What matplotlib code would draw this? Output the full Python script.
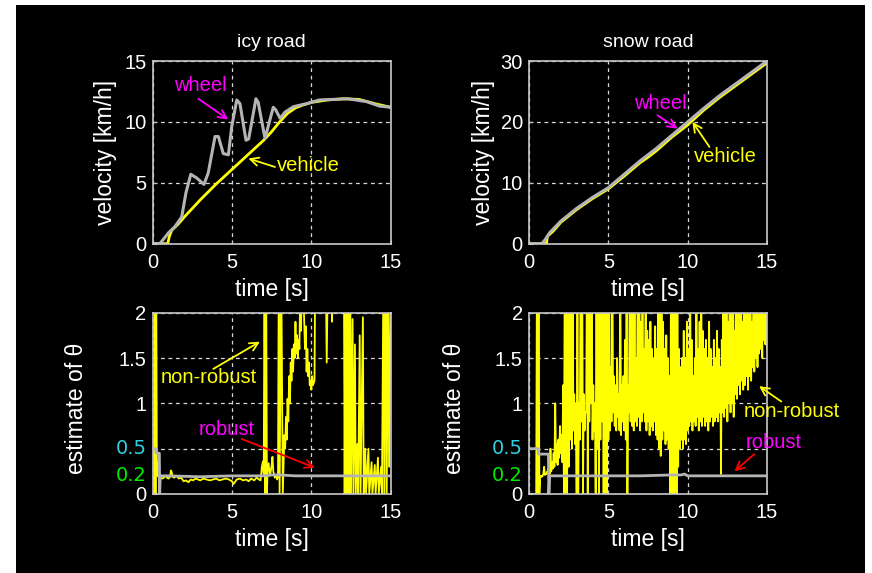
import numpy as np
import matplotlib.pyplot as plt
from matplotlib.patches import Rectangle
from matplotlib.transforms import blended_transform_factory

plt.rcParams['font.family'] = ['Liberation Sans', 'DejaVu Sans']

# ---- icy road velocities ----
icy_wheel_t = [0, 0.45, 0.7, 1.0, 1.4, 1.83, 2.1, 2.4, 2.77, 3.23, 3.5, 3.93, 4.14, 4.45, 4.77,
               4.98, 5.3, 5.5, 5.88, 6.05, 6.51, 6.65, 7.08, 7.6, 7.75, 8.03, 8.34, 8.87, 9.7,
               10.5, 12.33, 13.5, 14.3, 15.0]
icy_wheel_v = [0, 0, 0.4, 0.9, 1.4, 2.2, 4.2, 5.7, 5.4, 4.87, 5.8, 8.8, 8.8, 7.4, 7.3,
               9.6, 11.8, 11.5, 8.5, 8.6, 11.9, 11.6, 8.65, 11.2, 11.0, 10.3, 10.8, 11.25, 11.5,
               11.8, 11.9, 11.66, 11.3, 11.2]
icy_vehicle_t = [0, 0.95, 1.05, 1.2, 1.6, 2.0, 3.0, 4.0, 5.0, 6.0, 7.0, 7.5, 8.0, 8.5, 9.0,
                 9.5, 10.0, 11.0, 12.0, 13.0, 14.0, 15.0]
icy_vehicle_v = [0, 0, 0.6, 1.1, 1.6, 2.2, 3.6, 4.9, 6.1, 7.3, 8.5, 9.2, 10.0, 10.7, 11.15,
                 11.4, 11.6, 11.8, 11.9, 11.85, 11.5, 11.2]

# ---- snow road velocities ----
snow_wheel_t = [0, 0.8, 1.0, 1.3, 2.0, 3.0, 4.0, 5.0, 6.0, 7.0, 7.5, 8.0, 9.0, 10.0, 11.0,
                12.0, 13.0, 14.0, 15.0]
snow_wheel_v = [0, 0, 0.6, 1.8, 3.7, 5.8, 7.6, 9.2, 11.4, 13.6, 14.6, 15.6, 17.8, 20.0, 22.2,
                24.3, 26.2, 28.1, 30.0]
snow_vehicle_t = [0, 1.1, 1.15, 1.5, 2.0, 3.0, 4.0, 5.0, 6.0, 7.0, 7.5, 8.0, 9.0, 10.0, 11.0,
                  12.0, 13.0, 14.0, 15.0]
snow_vehicle_v = [0, 0, 1.2, 2.0, 3.5, 5.6, 7.4, 9.0, 11.1, 13.3, 14.2, 15.2, 17.5, 19.5, 21.9,
                  24.0, 25.9, 27.8, 29.7]

# ---- theta estimates, icy road ----
icy_nr_t = [0.00, 0.10, 0.14, 0.18, 0.22, 0.26, 0.32, 0.40, 0.50, 0.60, 0.70, 0.80, 0.90, 1.00,
            1.10, 1.15, 1.20, 1.25, 1.35, 1.50, 1.65, 1.80, 1.95, 2.10, 2.25, 2.40, 2.55, 2.70,
            2.85, 3.00, 3.20, 3.40, 3.60, 3.80, 4.00, 4.20, 4.40, 4.60, 4.80, 5.00, 5.10, 5.30,
            5.50, 5.70, 5.90, 6.05, 6.20, 6.40, 6.55, 6.70, 6.80, 6.88, 6.95, 7.00,
            7.05, 7.10, 7.15, 7.20, 7.25, 7.30, 7.40, 7.50, 7.55, 7.60, 7.70, 7.80, 7.85, 7.90,
            7.95, 8.00, 8.10, 8.20, 8.30, 8.35, 8.40, 8.45, 8.50, 8.55, 8.60, 8.65, 8.70, 8.75,
            8.80, 8.85, 8.90, 8.95, 9.00, 9.05, 9.10, 9.15, 9.20, 9.25, 9.30, 9.35, 9.40, 9.45,
            9.50, 9.55, 9.60, 9.65, 9.70, 9.75, 9.80, 9.85, 9.90, 9.95, 10.00, 10.05, 10.10,
            10.20, 10.25, 10.50, 10.90, 10.97, 11.05, 11.25, 11.30, 11.35, 12.05, 12.10, 12.15,
            12.20, 12.25, 12.30, 12.35, 12.40, 12.45, 12.50, 12.60, 12.65, 12.75, 12.80, 12.90,
            12.95, 13.05, 13.10, 13.25, 13.30, 13.40, 13.45, 13.60, 13.65, 13.80, 13.85, 14.00,
            14.05, 14.20, 14.25, 14.40, 14.45, 14.55, 14.60, 14.70, 14.75, 14.85, 14.90, 15.00]
icy_nr_v = [0.00, 0.00, 2.60, 0.00, 2.60, 0.40, 0.20, 0.18, 0.19, 0.17, 0.18, 0.20, 0.18, 0.17,
            0.19, 0.26, 0.24, 0.19, 0.18, 0.20, 0.17, 0.18, 0.14, 0.15, 0.13, 0.16, 0.15, 0.17,
            0.16, 0.15, 0.17, 0.16, 0.15, 0.16, 0.17, 0.15, 0.16, 0.17, 0.16, 0.14, 0.11, 0.16,
            0.17, 0.15, 0.16, 0.14, 0.17, 0.15, 0.18, 0.16, 0.15, 0.30, 0.36, 0.22,
            2.60, 0.00, 2.60, 0.00, 0.30, 0.34, 0.20, 0.32, 0.41, 0.25, 0.18, 0.20, 0.16, 0.20,
            2.60, 0.00, 2.60, 0.00, 0.65, 0.50, 0.85, 0.60, 1.05, 0.80, 1.30, 1.00, 1.45, 1.25,
            1.60, 1.35, 1.65, 1.50, 1.90, 1.55, 1.75, 1.50, 1.70, 1.60, 2.30, 1.80, 2.30, 2.00,
            2.30, 1.90, 1.60, 1.85, 1.35, 1.60, 1.30, 1.45, 1.20, 1.25, 1.15, 1.30, 1.20,
            1.25, 2.60, 2.60, 2.60, 1.45, 2.60, 2.60, 1.90, 2.60, 2.60, 0.00, 2.60,
            0.00, 2.60, 0.00, 2.60, 0.00, 2.60, 0.00, 1.93, 0.00, 1.65, 0.00, 0.55,
            0.00, 1.75, 0.00, 1.95, 0.00, 0.50, 0.00, 0.50, 0.00, 0.35, 0.00, 0.32,
            0.00, 0.40, 0.00, 0.30, 0.00, 2.60, 0.00, 2.60, 0.00, 2.60, 0.30, 2.00]
icy_rob_t = [0, 0.2, 0.22, 0.42, 0.44, 0.48, 1.0, 3.0, 5.0, 7.0, 7.5, 8.0, 9.0, 10.0, 12.0, 15.0]
icy_rob_v = [0.5, 0.5, 0.45, 0.45, 0.0, 0.2, 0.2, 0.19, 0.2, 0.2, 0.21, 0.21, 0.2, 0.2, 0.2, 0.2]

# ---- theta estimates, snow road (sampled every 0.05 s) ----
snow_nr_t = np.round(np.arange(0, 15.001, 0.05), 2)
snow_nr_v = [
    0, 0, 0, 0, 0, 0, 0, 0, 0, 0, 2.6, 0.0, 2.6, 0.0, 0.18, 0.2, 0.19, 0.2, 0.22, 0.3,
    0.21, 0.22, 0.22, 0.25, 0.24, 0.3, 0.22, 0.5, 0.25, 0.35, 0.28, 0.45, 0.3, 1.0, 0.35, 0.55, 0.32, 0.6, 0.4, 0.75,
    0.45, 0.65, 0.35, 1.2, 0.0, 2.6, 0.0, 2.6, 0.0, 2.6, 0.3, 2.6, 0.6, 2.6, 0.5, 2.2, 0.7, 1.1, 0.55, 1.0,
    0.0, 2.6, 0.0, 1.0, 0.6, 2.6, 0.8, 2.6, 0.0, 1.1, 0.7, 0.9, 0.9, 2.6, 0.0, 2.6, 0.8, 2.6, 1.0, 2.3,
    0.6, 1.2, 0.7, 1.0, 0.0, 2.6, 0.5, 2.6, 0.0, 2.0, 0.6, 2.6, 0.8, 2.6, 0.0, 2.6, 0.0, 2.6, 0.0, 2.6,
    0.6, 2.6, 0.7, 1.4, 0.8, 2.6, 0.9, 1.3, 0.75, 1.2, 0.7, 1.5, 0.85, 1.1, 0.7, 2.6, 0.65, 1.2, 0.8, 1.3,
    0.7, 1.7, 0.6, 2.6, 0.0, 1.2, 0.9, 2.6, 0.8, 2.6, 0.75, 2.2, 0.7, 2.6, 0.8, 1.5, 0.75, 2.6, 0.85, 2.6,
    0.7, 1.9, 0.8, 2.6, 0.9, 1.6, 0.8, 2.6, 0.7, 1.8, 0.8, 1.7, 0.65, 1.9, 0.75, 1.6, 0.7, 1.5, 0.8, 1.85,
    0.65, 1.6, 0.6, 2.6, 0.5, 2.6, 0.42, 2.6, 0.6, 1.9, 0.7, 1.6, 0.55, 1.75, 0.6, 1.5, 0.5, 1.3, 0.0, 2.6,
    0.0, 2.6, 0.0, 2.6, 0.0, 2.6, 0.0, 2.6, 0.3, 1.6, 0.5, 1.4, 0.6, 1.5, 0.5, 1.8, 0.6, 1.5, 0.55, 1.9,
    0.7, 1.6, 0.75, 2.6, 0.8, 1.7, 0.7, 1.3, 0.8, 1.5, 0.75, 2.6, 0.85, 1.6, 0.7, 1.9, 0.8, 2.6, 0.75, 1.8,
    0.85, 1.6, 0.75, 1.7, 0.8, 1.5, 0.7, 1.9, 0.8, 1.6, 0.85, 1.4, 0.75, 1.7, 0.8, 1.5, 0.85, 1.8, 0.8, 1.6,
    0.9, 1.4, 0.22, 1.7, 0.9, 2.6, 0.85, 2.0, 0.95, 2.6, 0.8, 1.9, 1.0, 2.6, 0.9, 2.2, 1.0, 2.6, 0.85, 1.8,
    1.1, 2.6, 1.05, 2.0, 1.2, 2.6, 1.1, 2.2, 1.25, 1.9, 1.15, 2.6, 1.2, 2.0, 1.3, 2.6, 1.15, 2.1, 1.3, 2.6,
    1.25, 1.9, 1.4, 2.6, 1.35, 2.2, 1.5, 2.6, 1.4, 2.6, 1.55, 2.6, 1.6, 2.6, 1.5, 2.6, 1.7, 2.6, 1.65, 2.6,
    1.6]
snow_rob_t = [0, 0.58, 0.6, 1.22, 1.25, 1.3, 3.0, 5.0, 7.0, 9.0, 9.6, 9.8, 10.0, 12.0, 15.0]
snow_rob_v = [0.5, 0.5, 0.44, 0.44, 0.0, 0.2, 0.2, 0.2, 0.2, 0.21, 0.21, 0.22, 0.2, 0.2, 0.2]

GRAY = '#b4b4b4'
YEL = '#ffff00'
MAG = '#ff00ff'

fig = plt.figure(figsize=(8.72, 5.73), dpi=100, facecolor='white')
fig.patches.append(Rectangle((16 / 872, 0), (865 - 16) / 872, 568 / 573,
                             transform=fig.transFigure, facecolor='black',
                             edgecolor='none', zorder=-10))

lefts = [0.1751, 0.6067]
axs = [[fig.add_axes([l, 0.5747, 0.2729, 0.3188]) for l in lefts],
       [fig.add_axes([l, 0.1379, 0.2729, 0.3164]) for l in lefts]]


def style(ax):
    ax.set_facecolor('black')
    for s in ax.spines.values():
        s.set_color('#c8c8c8')
        s.set_linewidth(1.2)
    ax.set_xlim(0, 15)
    ax.set_xticks([0, 5, 10, 15])
    ax.tick_params(axis='both', colors='white', labelsize=14.5, direction='in',
                   length=3, width=0.8)
    ax.tick_params(axis='both', color='#c8c8c8')
    ax.tick_params(axis='x', pad=6.5)
    ax.tick_params(axis='y', pad=4.5)
    ax.grid(True, color='#d8d8d8', linestyle=(0, (3, 3)), linewidth=0.9)
    ax.set_xlabel('time [s]', color='white', fontsize=16.5)
    ax.xaxis.set_label_coords(0.5, -0.19)


def arrow(ax, tail, tip, color):
    ax.annotate('', xy=tip, xytext=tail,
                arrowprops=dict(arrowstyle='->,head_length=0.6,head_width=0.3',
                                color=color, lw=1.3, shrinkA=0, shrinkB=0))


# top left: icy road velocity
ax = axs[0][0]
style(ax)
ax.plot(icy_vehicle_t, icy_vehicle_v, color=YEL, lw=2)
ax.plot(icy_wheel_t, icy_wheel_v, color=GRAY, lw=2.2)
ax.set_ylim(0, 15)
ax.set_yticks([0, 5, 10, 15])
ax.set_title('icy road', color='white', fontsize=14, pad=10)
ax.set_ylabel('velocity [km/h]', color='white', fontsize=16.5)
ax.yaxis.set_label_coords(-0.15, 0.5)
ax.text(2.98, 12.95, 'wheel', color=MAG, fontsize=14.5, ha='center', va='center')
arrow(ax, (2.88, 11.9), (4.76, 10.2), MAG)
ax.text(9.8, 6.4, 'vehicle', color=YEL, fontsize=14.5, ha='center', va='center')
arrow(ax, (7.71, 6.3), (6.03, 7.0), YEL)

# top right: snow road velocity
ax = axs[0][1]
style(ax)
ax.plot(snow_vehicle_t, snow_vehicle_v, color=YEL, lw=2)
ax.plot(snow_wheel_t, snow_wheel_v, color=GRAY, lw=2.2)
ax.set_ylim(0, 30)
ax.set_yticks([0, 10, 20, 30])
ax.set_title('snow road', color='white', fontsize=14, pad=10)
ax.set_ylabel('velocity [km/h]', color='white', fontsize=16.5)
ax.yaxis.set_label_coords(-0.143, 0.5)
ax.text(8.26, 23.0, 'wheel', color=MAG, fontsize=14.5, ha='center', va='center')
arrow(ax, (8.09, 21.1), (9.36, 18.9), MAG)
ax.text(12.4, 14.3, 'vehicle', color=YEL, fontsize=14.5, ha='center', va='center')
arrow(ax, (11.37, 15.9), (10.3, 20.0), YEL)

# bottom: theta estimates
bottom = [(axs[1][0], icy_nr_t, icy_nr_v, icy_rob_t, icy_rob_v, -0.272),
          (axs[1][1], snow_nr_t, snow_nr_v, snow_rob_t, snow_rob_v, -0.266)]
for ax, nt, nv, rt, rv, lx in bottom:
    style(ax)
    ax.plot(nt, nv, color=YEL, lw=1.3)
    ax.plot(rt, rv, color=GRAY, lw=2)
    ax.set_ylim(0, 2)
    ax.set_yticks([0, 0.5, 1, 1.5, 2])
    ax.set_yticklabels(['0', '', '1', '1.5', '2'])
    ax.set_ylabel('estimate of \u03b8', color='white', fontsize=16.5)
    ax.yaxis.set_label_coords(lx, 0.47)
    tr = blended_transform_factory(ax.transAxes, ax.transData)
    ax.text(-0.026, 0.5, '0.5', color='#30d0e0', fontsize=14, ha='right', va='center',
            family='DejaVu Sans', transform=tr)
    ax.text(-0.026, 0.2, '0.2', color='#00ee00', fontsize=14, ha='right', va='center',
            family='DejaVu Sans', transform=tr)

ax = axs[1][0]
ax.text(3.55, 1.28, 'non-robust', color=YEL, fontsize=14.5, ha='center', va='center')
arrow(ax, (3.82, 1.38), (6.76, 1.68), YEL)
ax.text(4.66, 0.706, 'robust', color=MAG, fontsize=14.5, ha='center', va='center')
arrow(ax, (5.61, 0.607), (10.23, 0.29), 'red')

ax = axs[1][1]
ax.text(16.54, 0.908, 'non-robust', color=YEL, fontsize=14.5, ha='center', va='center')
arrow(ax, (15.9, 1.02), (14.5, 1.19), YEL)
ax.text(15.4, 0.566, 'robust', color=MAG, fontsize=14.5, ha='center', va='center')
arrow(ax, (14.2, 0.44), (12.95, 0.25), 'red')

fig.savefig('out.png', dpi=100, facecolor='white')
